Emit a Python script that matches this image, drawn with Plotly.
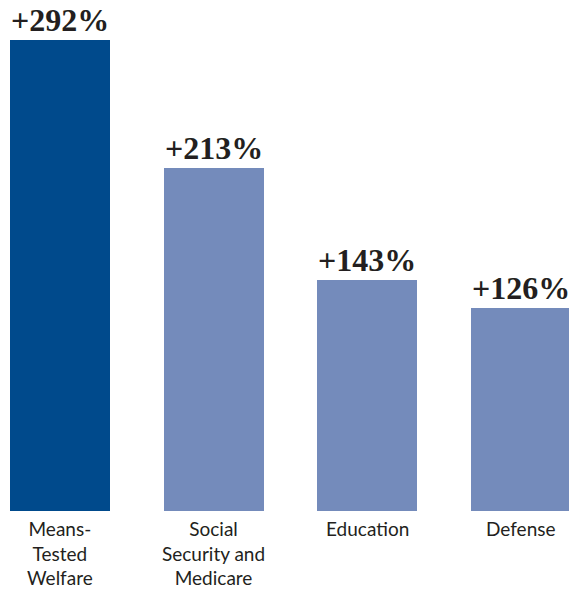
import plotly.graph_objects as go

# Spending growth by program category
categories = ["Means-<br>Tested<br>Welfare", "Social<br>Security and<br>Medicare", "Education", "Defense"]
growth_pct = [292, 213, 143, 126]
value_labels = ["+292%", "+213%", "+143%", "+126%"]
bar_colors = ["#004A8C", "#748BBB", "#748BBB", "#748BBB"]

x_pos = list(range(len(categories)))

fig = go.Figure(
    go.Bar(
        x=x_pos,
        y=growth_pct,
        width=0.651,
        marker=dict(color=bar_colors, line=dict(width=0)),
        hoverinfo="skip",
    )
)

# Percentage labels above each bar
for xi, v, lab in zip(x_pos, growth_pct, value_labels):
    fig.add_annotation(
        x=xi, y=v, xref="x", yref="y",
        text=f"<b>{lab}</b>", showarrow=False,
        yanchor="bottom", yshift=0,
        font=dict(family="Liberation Serif", size=32, color="#231F20"),
    )

# Category names below each bar
for xi, cat in zip(x_pos, categories):
    fig.add_annotation(
        x=xi, y=0, xref="x", yref="y",
        text=cat, showarrow=False,
        yanchor="top", yshift=-5, borderpad=0,
        font=dict(family="Lato", size=19, color="#231F20"),
    )

fig.update_layout(
    width=569, height=590,
    margin=dict(l=0, r=0, t=0, b=79),
    paper_bgcolor="white", plot_bgcolor="white",
    showlegend=False,
    bargap=0,
    xaxis=dict(range=[-0.3904, 3.3123], visible=False, fixedrange=True),
    yaxis=dict(range=[0, 317], visible=False, fixedrange=True),
)

fig.write_html("out.html")
